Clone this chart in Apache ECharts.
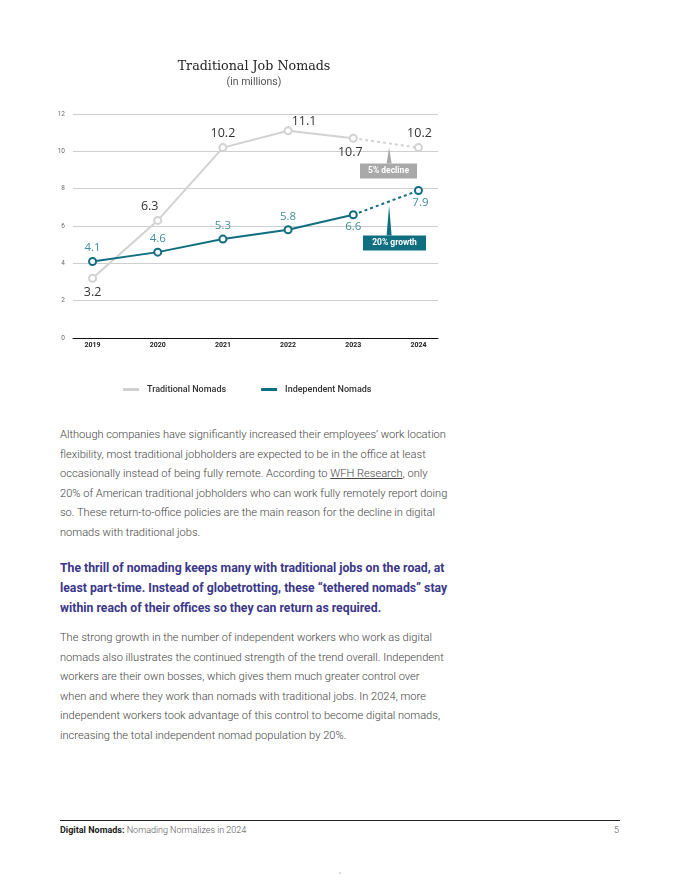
<!DOCTYPE html>
<html>
<head>
<meta charset="utf-8">
<script src="https://cdn.jsdelivr.net/npm/echarts@6/dist/echarts.min.js"></script>
<style>
  html, body { margin:0; padding:0; background:#fff; width:680px; height:880px; overflow:hidden; }
  #chart { position:absolute; left:0; top:0; width:680px; height:410px; }
  .p { position:absolute; left:60px; font-family:Roboto, sans-serif; white-space:nowrap; }
  .body { font-size:11.1px; line-height:19.6px; color:#444; font-weight:300; }
  .hl { font-size:12.25px; line-height:20px; color:#3b3789; font-weight:700; }
  .body a { color:#444; text-decoration:underline; }
  #footline { position:absolute; left:60px; top:820px; width:560px; height:0; border-top:1px solid #222; }
  #foot { position:absolute; left:60px; top:825px; font-family:Roboto, sans-serif; font-size:9px; color:#555; font-weight:300; }
  #foot b { color:#222; font-weight:700; }
  #pg { position:absolute; left:614px; top:825px; font-family:Roboto, sans-serif; font-size:9px; color:#555; font-weight:300; }
  #dot { position:absolute; left:339px; top:872px; width:2px; height:2px; background:#ccc; border-radius:1px; }
</style>
</head>
<body>
<div id="chart"></div>
<div class="p body" style="top:425px;">Although companies have significantly increased their employees’ work location<br>flexibility, most traditional jobholders are expected to be in the office at least<br>occasionally instead of being fully remote. According to <a>WFH Research</a>, only<br>20% of American traditional jobholders who can work fully remotely report doing<br>so. These return-to-office policies are the main reason for the decline in digital<br>nomads with traditional jobs.</div>
<div class="p hl" style="top:558px;">The thrill of nomading keeps many with traditional jobs on the road, at<br>least part-time. Instead of globetrotting, these “tethered nomads” stay<br>within reach of their offices so they can return as required.</div>
<div class="p body" style="top:628px;">The strong growth in the number of independent workers who work as digital<br>nomads also illustrates the continued strength of the trend overall. Independent<br>workers are their own bosses, which gives them much greater control over<br>when and where they work than nomads with traditional jobs. In 2024, more<br>independent workers took advantage of this control to become digital nomads,<br>increasing the total independent nomad population by 20%.</div>
<div id="footline"></div>
<div id="foot"><b>Digital Nomads:</b> Nomading Normalizes in 2024</div>
<div id="pg">5</div>
<div id="dot"></div>
<script>
const years = ['2019', '2020', '2021', '2022', '2023', '2024'];
const traditional = [3.2, 6.3, 10.2, 11.1, 10.7, 10.2];
const independent = [4.1, 4.6, 5.3, 5.8, 6.6, 7.9];
const yTicks = [0, 2, 4, 6, 8, 10, 12];

const GREY = '#d2d2d2';
const TEAL = '#0f6e7f';
const TEAL_LABEL = '#3f8fa0';

// label placement per point (style only)
const tradLabel = [
  { position: 'bottom', offset: [0, 0] },
  { position: 'top', offset: [-8, 0] },
  { position: 'top', offset: [0, 0] },
  { position: 'top', offset: [16, 5] },
  { position: 'bottom', offset: [-3, 0] },
  { position: 'top', offset: [1, 0] }
];
const indLabel = [
  { position: 'top', offset: [0, 0] },
  { position: 'top', offset: [0, 0] },
  { position: 'top', offset: [0, 0] },
  { position: 'top', offset: [0, 0] },
  { position: 'bottom', offset: [0, -2] },
  { position: 'bottom', offset: [2, -1] }
];

function pts(arr, from, to) {
  const out = [];
  for (let i = from; i <= to; i++) out.push([i, arr[i]]);
  return out;
}

function makeSeries(name, arr, color, labelColor, labelSize, placement, z) {
  const last = arr.length - 1;
  const solid = pts(arr, 0, last - 1).map((p, i) => ({
    value: p,
    label: { show: true, position: placement[i].position, offset: placement[i].offset }
  }));
  const dashed = pts(arr, last - 1, last).map((p, k) => {
    const i = last - 1 + k;
    if (k === 0) return { value: p, symbol: 'none', label: { show: false } };
    return { value: p, label: { show: true, position: placement[i].position, offset: placement[i].offset } };
  });
  const common = {
    type: 'line',
    symbol: 'circle',
    symbolSize: 7,
    z: z,
    itemStyle: { color: '#fff', borderColor: color, borderWidth: 2 },
    label: {
      color: labelColor, fontSize: labelSize, fontFamily: 'Open Sans, sans-serif',
      distance: 3, formatter: p => p.value[1].toFixed(1)
    },
    emphasis: { disabled: true },
    animation: false
  };
  return [
    Object.assign({}, common, { name: name, data: solid, lineStyle: { color: color, width: 2 } }),
    Object.assign({}, common, { name: name + ' (est.)', data: dashed, lineStyle: { color: color, width: 2, type: [3, 3] } })
  ];
}

const chart = echarts.init(document.getElementById('chart'), null, { renderer: 'canvas' });
chart.setOption({
  animation: false,
  title: {
    text: 'Traditional Job Nomads',
    subtext: '(in millions)',
    left: 249, top: 55, textAlign: 'center',
    itemGap: 4,
    textStyle: { fontFamily: 'DejaVu Serif, serif', fontSize: 12.7, fontWeight: 'normal', color: '#222' },
    subtextStyle: { fontFamily: 'Roboto, sans-serif', fontSize: 10.5, color: '#555' }
  },
  legend: {
    left: 123, top: 385, padding: 0,
    data: [
      { name: 'Traditional Nomads', itemStyle: { color: '#d0d0d0', borderWidth: 0 } },
      { name: 'Independent Nomads', itemStyle: { color: TEAL, borderWidth: 0 } }
    ],
    icon: 'rect', itemWidth: 16, itemHeight: 3, itemGap: 35,
    textStyle: { fontFamily: 'Roboto, sans-serif', fontSize: 9, fontWeight: 500, color: '#333', padding: [0, 0, 0, 3] },
    selectedMode: false
  },
  grid: { left: 73, right: 242, top: 114, bottom: 72 },
  xAxis: {
    type: 'value', min: -0.3, max: 5.3,
    axisLine: { show: true, onZero: false, lineStyle: { color: '#111', width: 1 } },
    axisTick: { show: false },
    splitLine: { show: false },
    axisLabel: {
      customValues: years.map((y, i) => i),
      formatter: v => years[Math.round(v)],
      fontFamily: 'Roboto, sans-serif', fontSize: 7, fontWeight: 'bold', color: '#222', margin: 4
    }
  },
  yAxis: {
    type: 'value', min: yTicks[0], max: yTicks[yTicks.length - 1], interval: 2,
    axisLine: { show: false }, axisTick: { show: false },
    splitLine: { lineStyle: { color: '#cfcfcf', width: 1 } },
    axisLabel: { fontFamily: 'Roboto, sans-serif', fontSize: 6.5, color: '#666', margin: 8 }
  },
  series: [
    ...makeSeries('Traditional Nomads', traditional, GREY, '#333', 12.5, tradLabel, 2),
    ...makeSeries('Independent Nomads', independent, TEAL, TEAL_LABEL, 11.5, indLabel, 3)
  ]
});

// Annotations anchored to the dashed segments
function annot(arr, color, text, boxDy, boxX, boxW) {
  const n = arr.length;
  const xv = n - 1.45;
  const yv = arr[n - 2] + (arr[n - 1] - arr[n - 2]) * 0.55;
  const tip = chart.convertToPixel({ gridIndex: 0 }, [xv, yv]);
  const tipY = tip[1] + 4;
  const boxTop = tipY + boxDy;
  return [
    { type: 'polygon', shape: { points: [[tip[0], tipY], [tip[0] - 2.5, boxTop], [tip[0] + 2.5, boxTop]] }, style: { fill: color }, z: 10 },
    { type: 'rect', shape: { x: boxX, y: boxTop, width: boxW, height: 15 }, style: { fill: color }, z: 10 },
    { type: 'text', x: boxX + boxW / 2, y: boxTop + 7.5, style: { text: text, fill: '#fff', font: 'bold 8.5px Roboto, sans-serif', align: 'center', verticalAlign: 'middle' }, z: 11 }
  ];
}
chart.setOption({
  graphic: [
    ...annot(traditional, '#a9a9a9', '5% decline', 16, 360, 57),
    ...annot(independent, TEAL, '20% growth', 30, 363, 63)
  ]
});
</script>
</body>
</html>
